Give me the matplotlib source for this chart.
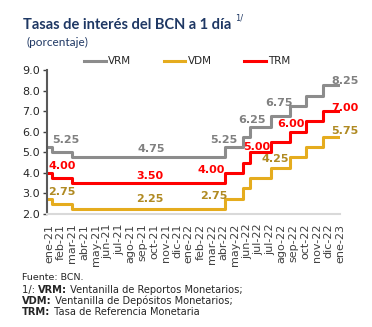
import matplotlib
matplotlib.use("Agg")
import matplotlib.pyplot as plt

# category labels on the x axis (as printed)
months = ['ene-21', 'feb-21', 'mar-21', 'abr-21', 'may-21', 'jun-21', 'jul-21',
          'ago-21', 'sep-21', 'oct-21', 'nov-21', 'dic-21', 'ene-22', 'feb-22',
          'mar-22', 'abr-22', 'may-22', 'jun-22', 'jul-22', 'jul-22', 'ago-22',
          'sep-22', 'oct-22', 'nov-22', 'dic-22', 'ene-23']

# rate changes, position on the category axis where each level starts
change_pos = [-0.2, 0.22, 1.93, 15.15, 16.65, 17.25, 19.05, 20.7, 22.1, 23.5, 24.85]
trm = [4.00, 3.75, 3.50, 4.00, 4.50, 5.00, 5.50, 6.00, 6.50, 7.00, 7.00]
vrm = [5.25, 5.00, 4.75, 5.25, 5.75, 6.25, 6.75, 7.25, 7.75, 8.25, 8.25]
vdm = [2.75, 2.50, 2.25, 2.75, 3.25, 3.75, 4.25, 4.75, 5.25, 5.75, 5.75]

# labelled values and where the label sits
vrm_labels = [(5.25, 1.43, 5.62), (4.75, 8.78, 5.14), (5.25, 15.0, 5.62),
              (6.25, 17.4, 6.59), (6.75, 19.72, 7.41), (8.25, 25.44, 8.47)]
trm_labels = [(4.00, 1.08, 4.32), (3.50, 8.69, 3.84), (4.00, 13.95, 4.13),
              (5.00, 17.84, 5.24), (6.00, 20.74, 6.35), (7.00, 25.44, 7.17)]
vdm_labels = [(2.75, 1.08, 3.06), (2.25, 8.69, 2.72), (2.75, 14.16, 2.87),
              (4.25, 19.46, 4.66), (5.75, 25.44, 6.01)]

c_vrm, c_vdm, c_trm = '#8C8C8C', '#E5AC1E', '#FF0000'
navy = '#1F3864'

fig = plt.figure(figsize=(3.72, 3.27), dpi=100)
ax = fig.add_axes([0.126, 0.3456, 0.788, 0.4404])

ax.step(change_pos, vrm, where='post', color=c_vrm, lw=2.2, label='VRM')
ax.step(change_pos, vdm, where='post', color=c_vdm, lw=2.2, label='VDM')
ax.step(change_pos, trm, where='post', color=c_trm, lw=2.2, label='TRM')

for labels, col in [(vrm_labels, '#808080'), (trm_labels, '#FF0000'), (vdm_labels, '#B08A22')]:
    for v, x, y in labels:
        ax.text(x, y, f'{v:.2f}', color=col, fontsize=8, fontweight='bold',
                ha='center', va='center', clip_on=False)

ax.set_xlim(-0.2, 24.85)
ax.set_ylim(2, 9)
ax.set_yticks([2, 3, 4, 5, 6, 7, 8, 9])
ax.set_yticklabels([f'{t:.1f}' for t in range(2, 10)])
ax.set_xticks(range(len(months)))
ax.set_xticklabels(months, rotation=90, fontsize=8, color='#404040')
ax.tick_params(axis='x', length=0, pad=7)
ax.tick_params(axis='y', length=3, width=1, color='#404040', labelsize=8,
               labelcolor='#262626', pad=2)

for s in ['top', 'right']:
    ax.spines[s].set_visible(False)
ax.spines['left'].set_color('#595959')
ax.spines['left'].set_linewidth(1.5)
ax.spines['bottom'].set_color('#D9D9D9')
ax.spines['bottom'].set_linewidth(1.5)

fig.legend(loc='center', bbox_to_anchor=(0.503, 0.813), ncol=3, frameon=False,
           fontsize=7.5, handlelength=2.1, handletextpad=0.2, columnspacing=3.1,
           labelcolor='#262626')

fig.text(0.062, 0.925, 'Tasas de interés del BCN a 1 día', fontsize=10.5,
         fontweight='bold', color=navy, family='Lato', va='center')
fig.text(0.632, 0.945, '1/', fontsize=6, color=navy, va='center')
fig.text(0.072, 0.87, '(porcentaje)', fontsize=8.5, color=navy, family='Lato', va='center')

# footer with bold prefixes
renderer = fig.canvas.get_renderer()


def rich_line(x, y, parts):
    for txt, w in parts:
        t = fig.text(x, y, txt, fontsize=7.1, fontweight=w, color='#262626', va='center')
        x += t.get_window_extent(renderer).width / fig.bbox.width


fig.text(0.06, 1 - 278 / 327, 'Fuente: BCN.', fontsize=6.8, color='#262626', va='center')
rich_line(0.06, 1 - 290 / 327, [('1/: ', 'normal'), ('VRM:', 'bold'),
                                (' Ventanilla de Reportos Monetarios;', 'normal')])
rich_line(0.06, 1 - 301 / 327, [('VDM:', 'bold'), (' Ventanilla de Depósitos Monetarios;', 'normal')])
rich_line(0.06, 1 - 312 / 327, [('TRM:', 'bold'), (' Tasa de Referencia Monetaria', 'normal')])

fig.savefig('out.png', dpi=100)
